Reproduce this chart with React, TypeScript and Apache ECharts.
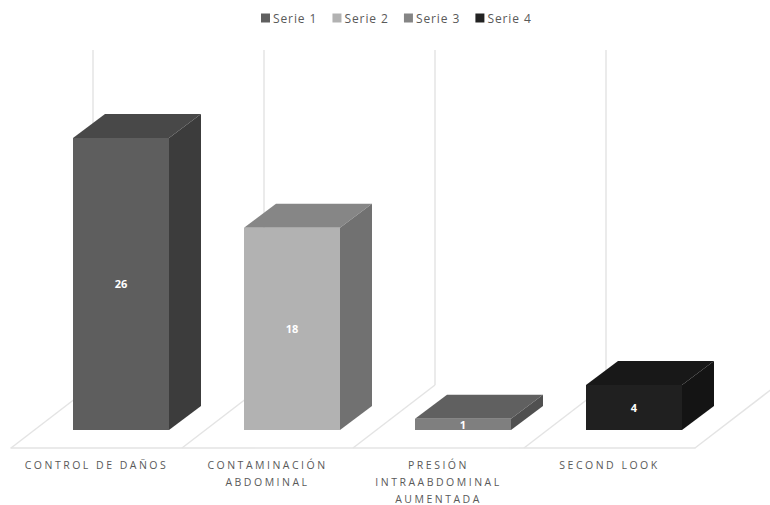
import React, { useEffect, useRef } from "react";
import * as echarts from "echarts";

const categories = [
  "CONTROL DE DAÑOS",
  "CONTAMINACIÓN\nABDOMINAL",
  "PRESIÓN\nINTRAABDOMINAL\nAUMENTADA",
  "SECOND LOOK",
];
const serie1 = [26, null, null, null];
const serie2 = [null, 18, null, null];
const serie3 = [null, null, 1, null];
const serie4 = [null, null, null, 4];
const seriesNames = ["Serie 1", "Serie 2", "Serie 3", "Serie 4"];
const wallValue = 30;

const faceColors = [
  { front: "#5e5e5e", top: "#484848", side: "#3c3c3c", legend: "#5f5f5f" },
  { front: "#b2b2b2", top: "#868686", side: "#717171", legend: "#b2b2b2" },
  { front: "#7f7f7f", top: "#606060", side: "#505050", legend: "#858585" },
  { front: "#202020", top: "#181818", side: "#141414", legend: "#222222" },
];

const GRID_COLOR = "#e4e4e4";
// Oblique projection of the floor and of the bar depth, in pixels.
const FLOOR_DX = 82;
const FLOOR_DY = 63;
const BAR_OFFSET_X = 24.5;
const BAR_OFFSET_Y = 18;
const BAR_WIDTH = 96;
const BAR_DX = 32;
const BAR_DY = 24;

function poly(points: number[][], fill: string) {
  return { type: "polygon", shape: { points }, style: { fill } };
}

function renderFloor(params: any, api: any) {
  const index = api.value(0);
  const center = api.coord([index, 0]);
  const band = api.size([1, 0])[0];
  const left = center[0] - band / 2;
  const right = left + band;
  const y0 = center[1];
  const line = (x1: number, y1: number, x2: number, y2: number) => ({
    type: "line",
    shape: { x1, y1, x2, y2 },
    style: { stroke: GRID_COLOR, lineWidth: 1.5 },
  });
  const wallTop = api.coord([index, wallValue])[1] - FLOOR_DY + 2;
  const children: any[] = [
    line(left, y0, left + FLOOR_DX, y0 - FLOOR_DY),
    line(left + FLOOR_DX, y0 - FLOOR_DY, left + FLOOR_DX, wallTop),
  ];
  if (index === categories.length - 1) {
    children.push(line(right, y0, right + FLOOR_DX, y0 - FLOOR_DY));
  }
  return { type: "group", children };
}

function renderBar(seriesIndex: number) {
  return (params: any, api: any) => {
    const value = api.value(1);
    const index = api.value(0);
    if (value == null || Number.isNaN(value)) return null;
    const base = api.coord([index, 0]);
    const top = api.coord([index, value]);
    const x0 = base[0] + BAR_OFFSET_X - BAR_WIDTH / 2;
    const x1 = x0 + BAR_WIDTH;
    const yBottom = base[1] - BAR_OFFSET_Y;
    const yTop = top[1] - BAR_OFFSET_Y;
    const c = faceColors[seriesIndex];
    return {
      type: "group",
      children: [
        poly(
          [
            [x0, yTop],
            [x1, yTop],
            [x1 + BAR_DX, yTop - BAR_DY],
            [x0 + BAR_DX, yTop - BAR_DY],
          ],
          c.top,
        ),
        poly(
          [
            [x1, yTop],
            [x1 + BAR_DX, yTop - BAR_DY],
            [x1 + BAR_DX, yBottom - BAR_DY],
            [x1, yBottom],
          ],
          c.side,
        ),
        poly(
          [
            [x0, yTop],
            [x1, yTop],
            [x1, yBottom],
            [x0, yBottom],
          ],
          c.front,
        ),
        {
          type: "text",
          x: (x0 + x1) / 2,
          y: (yTop + yBottom) / 2,
          style: {
            text: String(value),
            fill: "#ffffff",
            font: "bold 11px 'Open Sans', sans-serif",
            align: "center",
            verticalAlign: "middle",
          },
        },
      ],
    };
  };
}

export default function App() {
  const ref = useRef<HTMLDivElement>(null);

  useEffect(() => {
    document.body.style.margin = "0";
    const chart = echarts.init(ref.current!, null, { renderer: "svg" });
    const values = [serie1, serie2, serie3, serie4];
    chart.setOption({
      animation: false,
      backgroundColor: "#ffffff",
      legend: {
        data: seriesNames,
        top: 7,
        left: 256,
        icon: "rect",
        itemWidth: 9,
        itemHeight: 9,
        itemGap: 21.5,
        textStyle: {
          color: "#595959",
          fontSize: 12,
          fontFamily: "'Open Sans', sans-serif",
          padding: [0, 0, 0, -2],
        },
      },
      grid: { left: 11, right: 75, top: 111, bottom: 57, outerBoundsMode: "none" },
      xAxis: {
        type: "category",
        data: categories,
        axisTick: { show: false },
        axisLine: { lineStyle: { color: GRID_COLOR, width: 1.5 } },
        axisLabel: {
          interval: 0,
          margin: 8,
          fontSize: 10.5,
          lineHeight: 17,
          color: "#595959",
          fontFamily: "'Open Sans', sans-serif",
        },
      },
      yAxis: { type: "value", min: 0, max: wallValue, interval: 5, show: false },
      series: [
        {
          type: "custom",
          name: "floor",
          silent: true,
          renderItem: renderFloor,
          data: categories.map((_, i) => [i, 0]),
          encode: { x: 0, y: 1 },
        },
        ...seriesNames.map((name, s) => ({
          type: "custom",
          name,
          renderItem: renderBar(s),
          itemStyle: { color: faceColors[s].legend },
          data: values[s].map((v, i) => [i, v]),
          encode: { x: 0, y: 1 },
        })),
      ],
    });
    return () => chart.dispose();
  }, []);

  return (
    <div>
      <style>{`
        #root text[style*="10.5px"] { letter-spacing: 2.5px; }
        #root text[style*="12px"] { letter-spacing: 0.9px; }
      `}</style>
      <div ref={ref} style={{ width: 770, height: 505 }} />
    </div>
  );
}
